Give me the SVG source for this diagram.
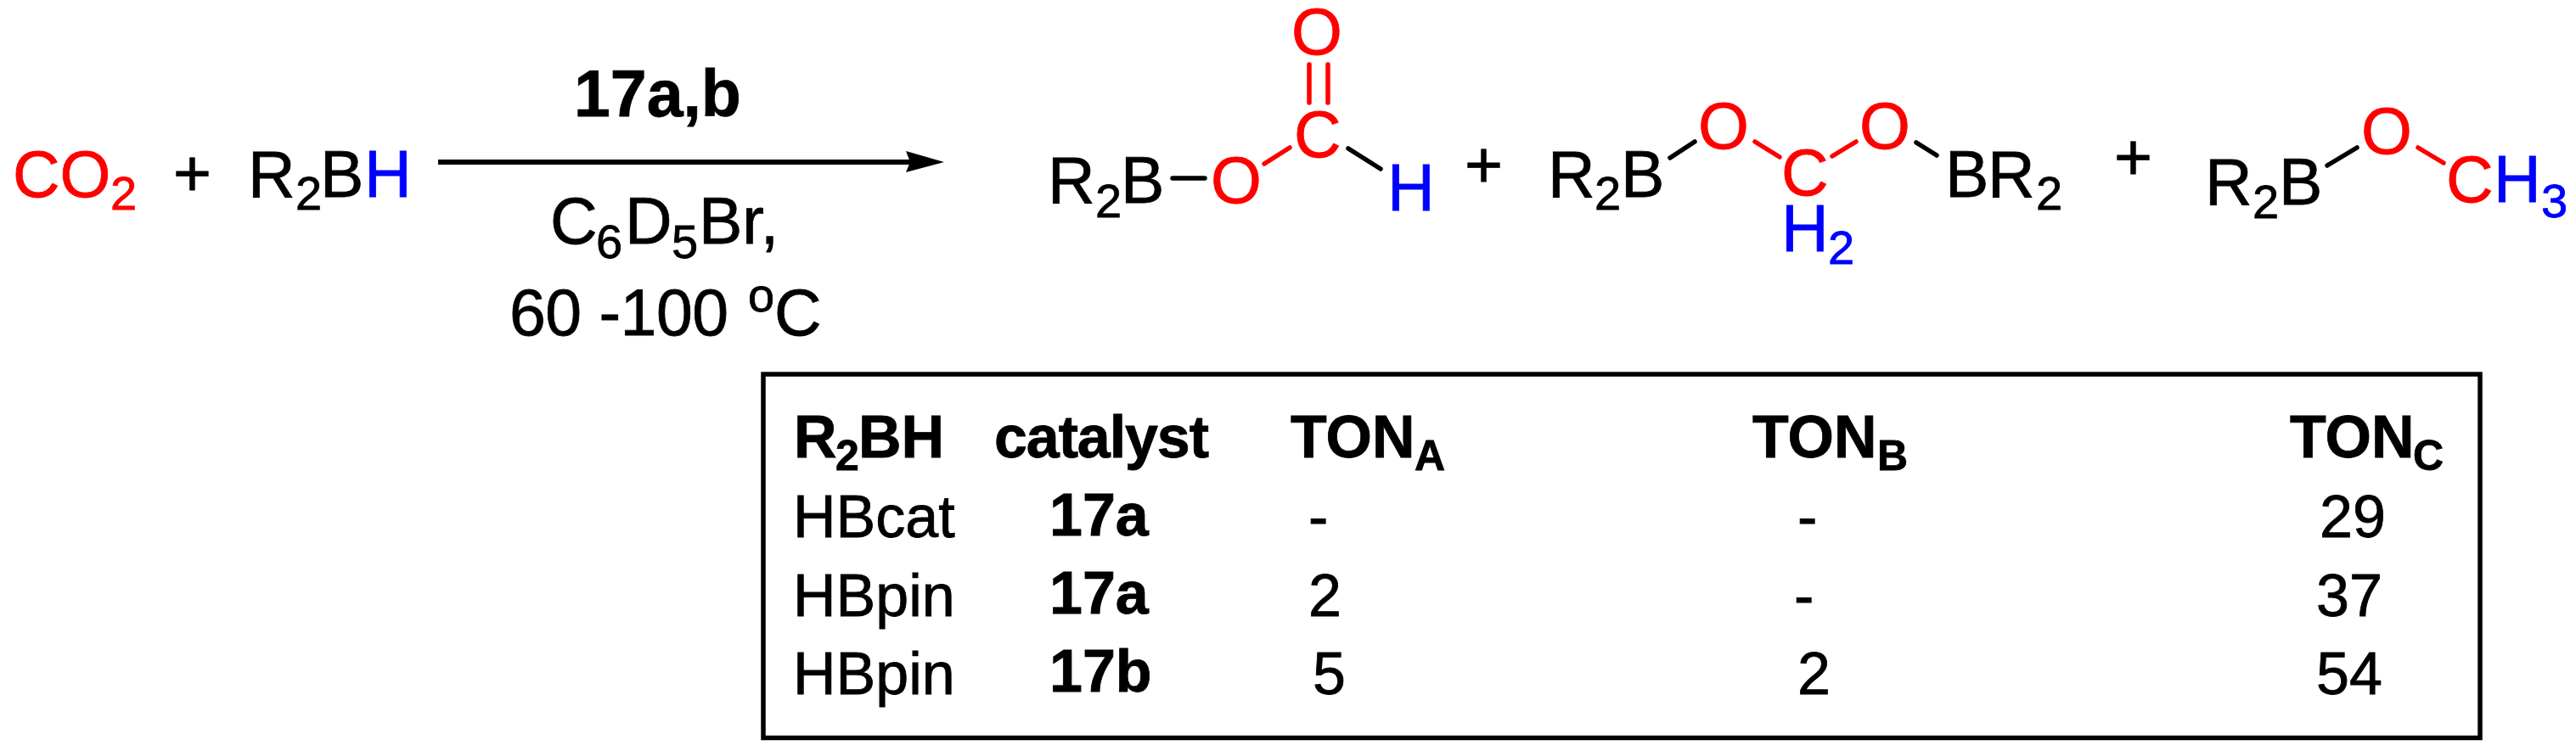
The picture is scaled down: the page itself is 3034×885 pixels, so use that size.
<svg xmlns="http://www.w3.org/2000/svg" width="3034" height="885" viewBox="0 0 3034 885">
<style>
text{font-family:"Liberation Sans",Arial,sans-serif;font-size:77px;fill:#000;stroke:#000;stroke-width:.8}
.r{fill:#f00;stroke:#f00}.u{fill:#00f;stroke:#00f}
.b{font-weight:700}
.s{font-size:56px}
.t{font-size:70px}
.ts{font-size:50px}
.bond{fill:none;stroke:#000;stroke-width:5.5;stroke-linecap:round}
.red{stroke:#f00}
</style>
<rect width="3034" height="885" fill="#fff"/>
<g id="connectors">
<line x1="516" y1="191" x2="1072" y2="191" stroke="#000" stroke-width="6"/>
<polygon points="1112,191 1067,178 1072,191 1067,203" fill="#000"/>
<line class="bond" x1="1381" y1="210" x2="1419" y2="210"/>
<line class="bond red" x1="1489" y1="193" x2="1519" y2="174"/>
<line class="bond red" x1="1542" y1="76" x2="1542" y2="121"/>
<line class="bond red" x1="1564" y1="76" x2="1564" y2="121"/>
<line class="bond" x1="1588" y1="175" x2="1626" y2="199"/>
<line class="bond" x1="1967" y1="186" x2="1996" y2="167"/>
<line class="bond red" x1="2067" y1="167" x2="2096" y2="185"/>
<line class="bond red" x1="2158" y1="184" x2="2186" y2="167"/>
<line class="bond" x1="2257" y1="168" x2="2281" y2="183"/>
<line class="bond" x1="2741" y1="195" x2="2776" y2="174"/>
<line class="bond red" x1="2848" y1="174" x2="2878" y2="192"/>
</g>
<g id="co2"><text class="r" x="15" y="232">CO</text><text class="r s" x="130" y="247">2</text></g>
<text id="plus1" x="204" y="231">+</text>
<g id="r2bh"><text x="292" y="232">R</text><text class="s" x="348" y="247">2</text><text x="377" y="232">B</text><text class="u" x="429" y="232">H</text></g>
<g id="conditions">
<text class="b" x="676" y="137">17a,b</text>
<text x="648" y="287">C</text><text class="s" x="702" y="304">6</text><text x="736" y="287">D</text><text class="s" x="791" y="304">5</text><text x="823" y="287">Br,</text>
<text x="600" y="395" textLength="258">60 -100</text><text class="s" x="881" y="367">o</text><text x="912" y="395">C</text>
</g>
<g id="product-a">
<text x="1234" y="239">R</text><text class="s" x="1290" y="256">2</text><text x="1320" y="239">B</text>
<text class="r" x="1426" y="239">O</text><text class="r" x="1524" y="185">C</text><text class="r" x="1521" y="64">O</text>
<text class="u" x="1634" y="248">H</text>
</g>
<text id="plus2" x="1725" y="221">+</text>
<g id="product-b">
<text x="1823" y="232">R</text><text class="s" x="1878" y="247">2</text><text x="1909" y="232">B</text>
<text class="r" x="2000" y="175">O</text><text class="r" x="2098" y="230">C</text>
<text class="u" x="2098" y="296">H</text><text class="u s" x="2153" y="311">2</text>
<text class="r" x="2190" y="175">O</text>
<text x="2291" y="232">B</text><text x="2341" y="232">R</text><text class="s" x="2398" y="247">2</text>
</g>
<text id="plus3" x="2490" y="212">+</text>
<g id="product-c">
<text x="2597" y="241">R</text><text class="s" x="2653" y="257">2</text><text x="2684" y="241">B</text>
<text class="r" x="2781" y="181">O</text><text class="r" x="2881" y="238">C</text>
<text class="u" x="2937" y="238">H</text><text class="u s" x="2993" y="256">3</text>
</g>
<g id="table">
<rect x="899" y="441" width="2022" height="428.500" fill="none" stroke="#000" stroke-width="5.500"/>
<text class="t b" x="935" y="539">R</text><text class="ts b" x="984" y="554">2</text><text class="t b" x="1011" y="539">BH</text>
<text class="t b" x="1171" y="539" textLength="253">catalyst</text>
<text class="t b" x="1520" y="539">TON</text><text class="ts b" x="1666" y="554">A</text>
<text class="t b" x="2064" y="539">TON</text><text class="ts b" x="2211" y="554">B</text>
<text class="t b" x="2697" y="539">TON</text><text class="ts b" x="2842" y="554">C</text>
<text class="t" x="934" y="633">HBcat</text><text class="t b" x="1236" y="631">17a</text><text class="t" x="1541" y="633">-</text><text class="t" x="2117" y="633">-</text><text class="t" x="2732" y="633">29</text>
<text class="t" x="934" y="726">HBpin</text><text class="t b" x="1236" y="723">17a</text><text class="t" x="1541" y="726">2</text><text class="t" x="2113" y="726">-</text><text class="t" x="2728" y="726">37</text>
<text class="t" x="934" y="818">HBpin</text><text class="t b" x="1236" y="815">17b</text><text class="t" x="1546" y="818">5</text><text class="t" x="2117" y="818">2</text><text class="t" x="2728" y="818">54</text>
</g>
</svg>
